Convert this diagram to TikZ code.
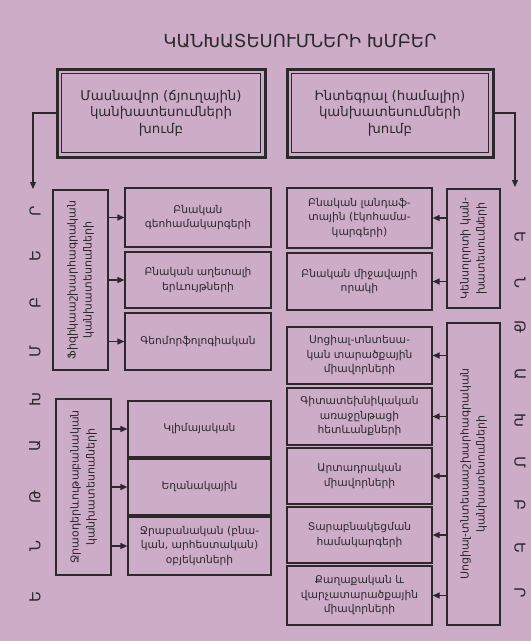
\documentclass[tikz,border=0pt]{standalone}
\usepackage{fontspec}
\setmainfont{DejaVu Sans}
\usetikzlibrary{arrows.meta}
\definecolor{bg}{HTML}{CDACC8}
\definecolor{ink}{HTML}{2D282D}
\tikzset{
  boxed/.style={draw=ink, line width=1.2pt, align=center, text=ink, inner sep=1pt,
    font=\fontsize{10.7}{14.5}\selectfont},
  vbox/.style={boxed, rotate=90, font=\fontsize{11}{16}\selectfont},
  topbox/.style={draw=ink, line width=3pt, align=center, text=ink,
    font=\fontsize{13.3}{16.5}\selectfont},
  inner frame/.style={draw=ink, line width=1.2pt},
  arr/.style={draw=ink, line width=1.2pt, -{Triangle[length=7pt,width=6pt]}},
  letter/.style={text=ink, font=\fontsize{15}{15}\selectfont},
}
\newcommand\mybox[6]{\node[boxed, minimum width={#4-#2}, minimum height={#5-#3}] (#1) at ({(#2+#4)/2},{(#3+#5)/2}) {#6};}
\newcommand\myvbox[6]{\node[vbox, minimum width={#5-#3}, minimum height={#4-#2}] (#1) at ({(#2+#4)/2},{(#3+#5)/2}) {#6};}
\begin{document}
\begin{tikzpicture}[x=1pt,y=-1pt]
\fill[bg] (0,0) rectangle (531,641);
\useasboundingbox (0,0) rectangle (531,641);

\node[text=ink, font=\fontsize{18}{18}\selectfont] (title) at (300,41) {ԿԱՆԽԱՏԵՍՈՒՄՆԵՐԻ ԽՄԲԵՐ};

\node[topbox, minimum width=208, minimum height=88] (tl) at (161,113) {Մասնավոր (ճյուղային)\\կանխատեսումների\\խումբ};
\node[topbox, minimum width=206, minimum height=88] (tr) at (390,113) {Ինտեգրալ (համալիր)\\կանխատեսումների\\խումբ};
\draw[inner frame] ([shift={(6,6)}]tl.north west) rectangle ([shift={(-6,-6)}]tl.south east);
\draw[inner frame] ([shift={(6,6)}]tr.north west) rectangle ([shift={(-6,-6)}]tr.south east);

\coordinate (ldrop) at (33,189);
\coordinate (rdrop) at (515,187);
\draw[arr] (tl.west) -| (ldrop);
\draw[arr] (tr.east) -| (rdrop);

% left group A
\myvbox{va}{53}{190}{108}{370}{Ֆիզիկաաշխարհագրական\\կանխատեսումների}
\mybox{la1}{125}{188}{271}{247}{Բնական\\գեոհամակարգերի}
\mybox{la2}{125}{252}{271}{308}{Բնական աղետալի\\երևույթների}
\mybox{la3}{125}{313}{271}{370}{Գեոմորֆոլոգիական}
% left group B
\myvbox{vb}{56}{399}{111}{575}{Ջրաօդերևութաբանական\\կանխատեսումների}
\mybox{lb1}{128}{401}{271}{457}{Կլիմայական}
\mybox{lb2}{128}{459}{271}{515}{Եղանակային}
\mybox{lb3}{128}{517}{271}{575}{Ջրաբանական (բնա-\\կան, արհեստական)\\օբյեկտների}
% right group A
\myvbox{vc}{447}{189}{500}{308}{Կենսոլորտի կան-\\խատեսումների}
\mybox{ra1}{287}{188}{432}{248}{Բնական լանդաֆ-\\տային (էկոհամա-\\կարգերի)}
\mybox{ra2}{287}{253}{432}{310}{Բնական միջավայրի\\որակի}
% right group B
\myvbox{vd}{447}{323}{500}{625}{Սոցիալ-տնտեսաաշխարհագրական\\կանխատեսումների}
\mybox{rb1}{287}{327}{432}{384}{Սոցիալ-տնտեսա-\\կան տարածքային\\միավորների}
\mybox{rb2}{287}{388}{432}{445}{Գիտատեխնիկական\\առաջընթացի\\հետևանքների}
\mybox{rb3}{287}{448}{432}{504}{Արտադրական\\միավորների}
\mybox{rb4}{287}{507}{432}{563}{Տարաբնակեցման\\համակարգերի}
\mybox{rb5}{287}{566}{432}{625}{Քաղաքական և\\վարչատարածքային\\միավորների}

% arrows (rotated nodes: south = right side, north = left side)
\foreach \b in {la1,la2,la3} \draw[arr] (\b.west -| va.south) -- (\b.west);
\foreach \b in {lb1,lb2,lb3} \draw[arr] (\b.west -| vb.south) -- (\b.west);
\foreach \b in {ra1,ra2} \draw[arr] (\b.east -| vc.north) -- (\b.east);
\foreach \b in {rb1,rb2,rb3,rb4,rb5} \draw[arr] (\b.east -| vd.north) -- (\b.east);

% side letters
\foreach \l/\y [count=\i] in {Ր/211,Ե/256,Բ/303,Մ/352,Խ/400,Ա/446,Թ/497,Ն/546,Ե/597}
  \node[letter, rotate=90] (L\i) at (35,\y) {\l};
\foreach \l/\y [count=\i] in {Ե/237,Ն/283,Թ/327,Ա/374,Խ/420,Մ/462,Բ/505,Ե/548,Ր/593}
  \node[letter, rotate=-90] (R\i) at (520,\y) {\l};
\end{tikzpicture}
\end{document}
